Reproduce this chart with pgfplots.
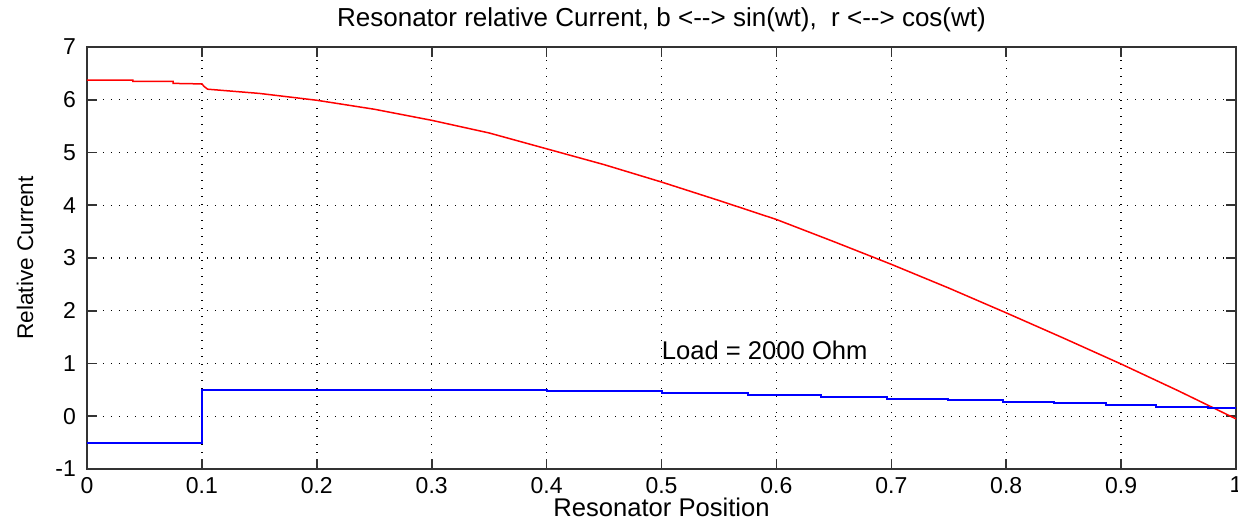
\documentclass[border=0pt]{standalone}
\usepackage{pgfplots}
\pgfplotsset{compat=1.18}
\usepackage{fontspec}
\setmainfont{Liberation Sans}
\begin{document}
\begin{tikzpicture}
\begin{axis}[
  scale only axis,
  width=574.5pt, height=211pt,
  xmin=0, xmax=1, ymin=-1, ymax=7,
  xtick={0,0.1,...,1.01},
  ytick={-1,0,...,7},
  xticklabels={0,0.1,0.2,0.3,0.4,0.5,0.6,0.7,0.8,0.9,1},
  tick align=inside,
  tick pos=both,
  major tick length=5pt,
  axis line style={black!80, line width=0.8pt},
  tick style={black!80, line width=0.8pt},
  grid=major,
  major grid style={black, line width=0.7pt, dash pattern=on 0.7pt off 3.3pt},
  /pgf/number format/assume math mode=true,
  tick label style={font=\fontsize{11.5}{13}\selectfont},
  xticklabel style={yshift=-0.5pt},
  yticklabel style={xshift=-2pt},
  title={Resonator relative Current, b <{-}{-}> sin(wt), \ r <{-}{-}> cos(wt)},
  title style={at={(axis description cs:0.5,1.019)}, anchor=base, font=\fontsize{13}{15}\selectfont},
  xlabel={Resonator Position},
  xlabel style={at={(axis description cs:0.5,-0.090)}, anchor=center, font=\fontsize{12.8}{15}\selectfont},
  ylabel={Relative Current},
  ylabel style={at={(axis description cs:-0.054,0.5)}, anchor=center, font=\fontsize{11.3}{13}\selectfont},
  clip=false,
]
\addplot[red, line width=0.75pt] coordinates {
(0,6.37) (0.04,6.37) (0.04,6.35) (0.075,6.35) (0.075,6.31) (0.1,6.30) (0.102,6.25) (0.105,6.20)
(0.15,6.12) (0.2,5.99) (0.25,5.82) (0.3,5.61) (0.35,5.37) (0.4,5.07) (0.45,4.77) (0.5,4.44)
(0.55,4.09) (0.6,3.73) (0.65,3.31) (0.7,2.88) (0.75,2.43) (0.8,1.96) (0.85,1.48) (0.9,0.99)
(0.95,0.48) (1.0,-0.05)
};
\addplot[blue, line width=1pt, const plot] coordinates {
(0,-0.5) (0.1,0.5) (0.4,0.47) (0.5,0.44) (0.575,0.41) (0.639,0.37) (0.696,0.335) (0.749,0.30)
(0.797,0.27) (0.842,0.245) (0.887,0.21) (0.930,0.175) (0.976,0.15) (1.0,0.15)
};
\node[anchor=west, font=\fontsize{12.8}{15}\selectfont, inner sep=0pt] at (axis cs:0.5,1.25) {Load = 2000 Ohm};
\coordinate (bl) at (rel axis cs:0,0);
\coordinate (tr) at (rel axis cs:1,1);
\end{axis}
\pgfresetboundingbox
\path[use as bounding box] ([shift={(-43.5pt,-29.5pt)}]bl) rectangle ([shift={(1pt,23.5pt)}]tr);
\end{tikzpicture}
\end{document}
